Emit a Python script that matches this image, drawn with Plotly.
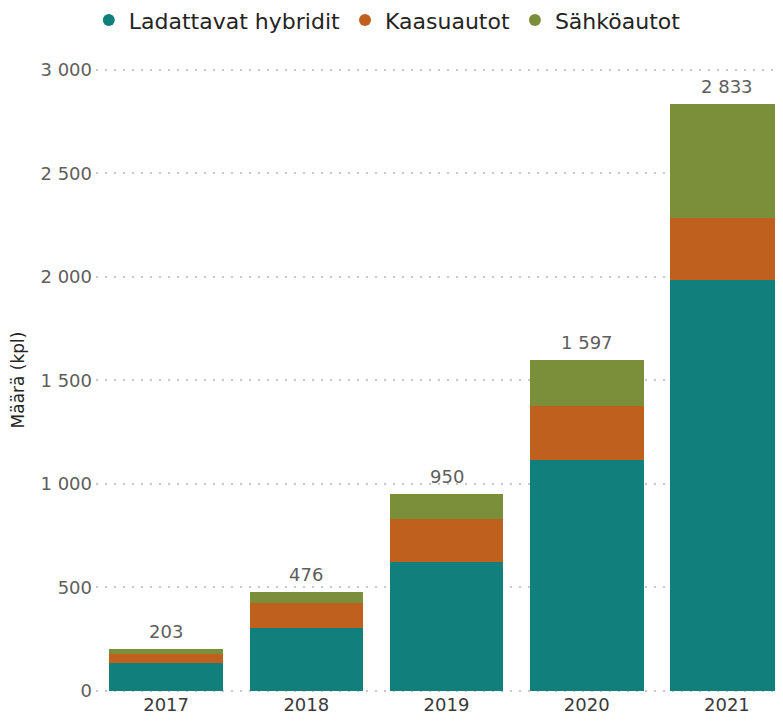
import plotly.graph_objects as go

years = ["2017", "2018", "2019", "2020", "2021"]
hybridit = [135, 305, 623, 1116, 1985]
kaasuautot = [43, 120, 206, 261, 300]
sahkoautot = [25, 51, 121, 220, 548]
totals = [h + k + s for h, k, s in zip(hybridit, kaasuautot, sahkoautot)]

series = [
    ("Ladattavat hybridit", hybridit, "#117F7C"),
    ("Kaasuautot", kaasuautot, "#BF601F"),
    ("Sähköautot", sahkoautot, "#7B8E3A"),
]

font_family = "DejaVu Sans, sans-serif"

fig = go.Figure()
for name, vals, col in series:
    fig.add_trace(go.Bar(x=years, y=vals, name=name, marker=dict(color=col, line=dict(width=0)),
                         showlegend=False, hoverinfo="skip"))
for name, vals, col in series:
    fig.add_trace(go.Scatter(x=[None], y=[None], mode="markers", name=name,
                             marker=dict(symbol="circle", size=14, color=col)))

for i, t in enumerate(totals):
    fig.add_annotation(x=i, y=t, xref="x", yref="y", text=f"{t:,}".replace(",", " "),
                       showarrow=False, yanchor="bottom", yshift=5,
                       font=dict(size=18, color="#605E5C", family=font_family))

# page body has an 8px margin; size the figure so the plot lands where the reference has it
fig.update_layout(
    width=775, height=714,
    barmode="stack", bargap=0.19,
    plot_bgcolor="white", paper_bgcolor="white",
    separators=", ",
    margin=dict(l=88, r=0, t=60, b=30),
    font=dict(family=font_family, color="#605E5C"),
    legend=dict(orientation="h", x=0.424, xanchor="center", y=0.983, yanchor="middle",
                yref="container", font=dict(size=22, color="#252423"),
                itemwidth=30, traceorder="normal", itemsizing="constant"),
    xaxis=dict(type="category", range=[-0.5, 4.4], showgrid=False, showline=False, ticks="",
               tickfont=dict(size=18, color="#3B3A39")),
    yaxis=dict(range=[-5, 3008], tickvals=[0, 500, 1000, 1500, 2000, 2500, 3000],
               tickformat=",d", showgrid=True,
               gridcolor="#C8C8C8", griddash="2px,7px", gridwidth=1.5,
               zeroline=False, showline=False, ticks="", ticklabelstandoff=3,
               tickfont=dict(size=18, color="#605E5C"),
               title=dict(text="Määrä (kpl)", font=dict(size=17, color="#252423"), standoff=12)),
)

fig.write_html("out.html")
